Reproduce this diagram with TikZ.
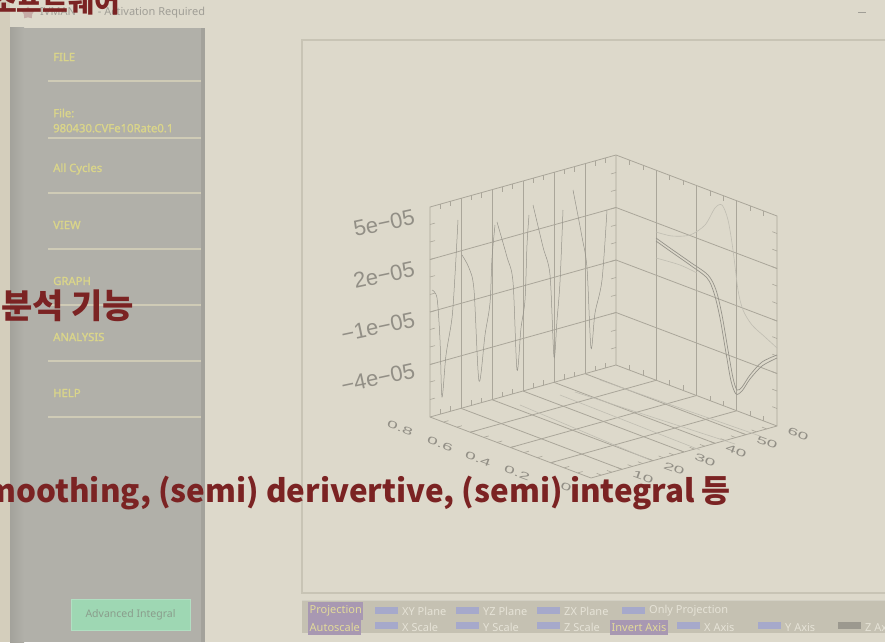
\documentclass[tikz,border=0pt]{standalone}
\usepackage{fontspec}
\setmainfont{Noto Sans}
\newfontfamily\menufont[AutoFakeBold=1.6]{Noto Sans}
\newfontfamily\krfont{Noto Sans CJK KR}
\newfontfamily\plotfont{Liberation Sans}
\usetikzlibrary{calc,shapes.geometric}

\definecolor{bgbeige}{RGB}{221,217,203}
\definecolor{edgebeige}{RGB}{212,206,188}
\definecolor{sidegray}{RGB}{177,176,169}
\definecolor{sidedark}{RGB}{163,162,155}
\definecolor{menuyellow}{RGB}{218,213,138}
\definecolor{seplight}{RGB}{207,203,182}
\definecolor{frameline}{RGB}{200,196,181}
\definecolor{barfill}{RGB}{197,193,178}
\definecolor{hilite}{RGB}{168,152,178}
\definecolor{hitext}{RGB}{226,218,154}
\definecolor{bartext}{RGB}{230,227,215}
\definecolor{swatch}{RGB}{166,169,203}
\definecolor{swatchoff}{RGB}{156,153,143}
\definecolor{gridline}{RGB}{170,166,154}
\definecolor{labelgray}{RGB}{146,143,134}
\definecolor{tracegray}{RGB}{150,147,138}
\definecolor{faintgray}{RGB}{192,189,178}
\definecolor{btngreen}{RGB}{158,215,179}
\definecolor{btntext}{RGB}{138,157,140}
\definecolor{titlegray}{RGB}{160,158,150}
\definecolor{notered}{RGB}{123,35,35}

\tikzset{
  menu/.style={anchor=west, text=menuyellow, font=\menufont\bfseries\fontsize{11.3}{15}\selectfont, inner sep=0pt},
  menusep/.style={draw=seplight, line width=1.5pt},
  barlabel/.style={anchor=west, text=bartext, font=\fontsize{11}{12}\selectfont, inner sep=0pt},
  barhilite/.style={anchor=west, fill=hilite, text=hitext, font=\fontsize{11}{12}\selectfont, inner xsep=1.5pt, minimum height=15pt},
  barswatch/.style={fill=swatch, minimum width=23pt, minimum height=7pt, inner sep=0pt},
  grid3d/.style={draw=gridline, line width=0.8pt},
  tick3d/.style={draw=gridline, line width=0.6pt},
  zlabel/.style={text=labelgray, font=\plotfont\fontsize{22}{22}\selectfont, rotate=12, inner sep=0pt},
  flabel/.style={text=labelgray, font=\plotfont\fontsize{12}{12}\selectfont, rotate=-20, xscale=1.6, yscale=0.85, inner sep=0pt},
  trace/.style={draw=tracegray, line width=0.5pt},
  faint/.style={draw=faintgray, line width=0.6pt},
  note/.style={text=notered, font=\krfont\bfseries, inner sep=0pt},
}

\begin{document}
\begin{tikzpicture}[x=1pt,y=-1pt]
\useasboundingbox (0,0) rectangle (885,642);
\clip (0,0) rectangle (885,642);
\fill[bgbeige] (0,0) rectangle (885,642);
\fill[edgebeige] (0,0) rectangle (10,642);

% title bar
\node[star, star points=5, fill=titlegray!60!pink, minimum size=13pt, inner sep=0pt] (appIcon) at (28,13) {};
\node[anchor=west, text=titlegray, font=\fontsize{11}{12}\selectfont, inner sep=0pt] (winTitle) at (40,13) {IVMAN\hspace{22pt}- Activation Required};
\draw[titlegray, line width=0.8pt] (858,12) -- (866,12);

% side menu
\fill[sidegray] (10,28) rectangle (205,642);
\shade[left color=sidedark, right color=sidegray] (10,28) rectangle (24,642);
\fill[sidedark] (201,28) rectangle (205,642);
\foreach \y in {81,138,193,249,305,361,417}
  \draw[menusep] (48,\y) -- (201,\y);
\node[menu] (mFile) at (53,57) {FILE};
\node[menu, align=left] (mFileName) at (53,120.5) {File:\\980430.CVFe10Rate0.1};
\node[menu] (mCycles) at (53,169) {All Cycles};
\node[menu] (mView) at (53,225) {VIEW};
\node[menu] (mGraph) at (53,281) {GRAPH};
\node[menu] (mAnalysis) at (53,337) {ANALYSIS};
\node[menu] (mHelp) at (53,393) {HELP};
\node[fill=btngreen, draw=btngreen!80!white, minimum width=119pt, minimum height=31pt, inner sep=0pt, text=btntext, font=\fontsize{10.5}{12}\selectfont] (advBtn) at (130.5,615) {Advanced Integral};

% plot frame and tool bar
\draw[frameline, line width=1.5pt] (302,40) rectangle (895,593);
\fill[barfill] (302,600) rectangle (885,633);
\draw[frameline!80!white, line width=1pt] (302,600) -- (885,600);
\node[barhilite] (hlProj) at (308,611) {Projection};
\node[barhilite] (hlAuto) at (308,627) {Autoscale};
\node[barhilite] (hlInv) at (610,627) {Invert Axis};
\foreach \x/\lbl [count=\n] in {375/XY Plane, 456/YZ Plane, 537/ZX Plane, 622/Only Projection} {
  \node[barswatch] (swA\n) at (\x+11.5,610.5) {};
  \node[barlabel] (lbA\n) at (\x+27,611) {\lbl};
}
\foreach \x/\lbl [count=\n] in {375/X Scale, 456/Y Scale, 537/Z Scale, 677/X Axis, 758/Y Axis} {
  \node[barswatch] (swB\n) at (\x+11.5,625.5) {};
  \node[barlabel] (lbB\n) at (\x+27,627) {\lbl};
}
\node[barswatch, fill=swatchoff] (swZ) at (849.5,625.5) {};
\node[barlabel] (lbZ) at (865,627) {Z Axis};

% 3d box
\coordinate (leftTop) at (430,207);
\coordinate (backTop) at (616,155);
\coordinate (backBot) at (616,365);
\coordinate (leftBot) at (430,417);
\coordinate (rightTop) at (777,216);
\coordinate (rightBot) at (777,426);
\coordinate (frontBot) at (591,478);

\draw[grid3d] (leftTop) -- (backTop) -- (rightTop) -- (rightBot) -- (frontBot) -- (leftBot) -- cycle;
\draw[grid3d] (backTop) -- (backBot) -- (leftBot);
\draw[grid3d] (backBot) -- (rightBot);
\foreach \i in {1,...,5} {
  \draw[grid3d] ($(leftTop)!\i/6!(backTop)$) -- ($(leftBot)!\i/6!(backBot)$);
  \draw[grid3d] ($(leftBot)!\i/6!(backBot)$) -- ($(frontBot)!\i/6!(rightBot)$);
}
\foreach \j in {1,2,3} {
  \draw[grid3d] ($(leftTop)!\j/4!(leftBot)$) -- ($(backTop)!\j/4!(backBot)$);
  \draw[grid3d] ($(backTop)!\j/4!(backBot)$) -- ($(rightTop)!\j/4!(rightBot)$);
  \draw[grid3d] ($(backTop)!\j/4!(rightTop)$) -- ($(backBot)!\j/4!(rightBot)$);
  \draw[grid3d] ($(leftBot)!\j/4!(frontBot)$) -- ($(backBot)!\j/4!(rightBot)$);
}
\foreach \k in {1,...,17} {
  \draw[tick3d] ($(leftTop)!\k/18!(backTop)$) -- ++(0,5);
  \draw[tick3d] ($(leftBot)!\k/18!(backBot)$) -- ++(0,-5);
  \draw[tick3d] ($(frontBot)!\k/18!(rightBot)$) -- ++(-4.7,-1.8);
}
\foreach \k in {1,...,11} {
  \draw[tick3d] ($(leftTop)!\k/12!(leftBot)$) -- ++(5,-1.4);
  \draw[tick3d] ($(backTop)!\k/12!(backBot)$) -- ++(-5,1.4);
  \draw[tick3d] ($(backTop)!\k/12!(rightTop)$) -- ++(0,5);
  \draw[tick3d] ($(backBot)!\k/12!(rightBot)$) -- ++(0,-5);
  \draw[tick3d] ($(rightTop)!\k/12!(rightBot)$) -- ++(-4.7,-1.8);
  \draw[tick3d] ($(leftBot)!\k/12!(frontBot)$) -- ++(5,-1.4);
}

% axis labels
\node[zlabel] (z1) at (384,223) {5e−05};
\node[zlabel] (z2) at (384,275) {2e−05};
\node[zlabel] (z3) at (378,327) {−1e−05};
\node[zlabel] (z4) at (378,378) {−4e−05};
\node[flabel] (x1) at (400,428) {0.8};
\node[flabel] (x2) at (440,444) {0.6};
\node[flabel] (x3) at (478,459) {0.4};
\node[flabel] (x4) at (517,473) {0.2};
\node[flabel] (x5) at (566,487) {0};
\foreach \v [count=\n] in {10,20,30,40,50,60}
  \node[flabel] (y\n) at (612+31*\n,486-8.7*\n) {\v};

% curves
\draw[faint] (560,395) -- (700,450);
\draw[faint] (575,392) -- (735,444);
\draw[faint] (600,380) -- (760,436);
\draw[faint] (520,405) -- (650,460);
\draw[trace] plot[smooth, tension=0.5] coordinates {(432,290) (437,298) (440,340) (442,397) (446,355) (452,318) (455,275) (458,220)};
\draw[trace] plot[smooth, tension=0.5] coordinates {(462,255) (469,268) (474,290) (479,381) (485,335) (490,303) (492,258) (495,225)};
\draw[trace] plot[smooth, tension=0.5] coordinates {(497,222) (507,257) (513,282) (517,370) (521,328) (525,300) (527,245) (529,215)};
\draw[trace] plot[smooth, tension=0.5] coordinates {(533,205) (543,247) (550,275) (554,357) (557,320) (560,282) (563,210)};
\draw[trace] plot[smooth, tension=0.5] coordinates {(573,190) (582,237) (587,268) (591,348) (595,313) (602,280) (607,210)};
\draw[faint] plot[smooth] coordinates {(656,232) (672,236) (690,235) (705,225) (715,208) (722,205) (728,220) (733,250) (738,290) (743,310) (752,325) (765,337) (777,348)};
\draw[faint] plot[smooth] coordinates {(656,258) (680,265) (697,273)};
\draw[trace, line width=0.7pt] plot[smooth] coordinates {(656,238) (670,248) (690,262) (708,275) (716,290) (722,315) (728,350) (733,378) (737,390) (742,387) (750,375) (762,362) (777,355)};
\draw[trace, line width=0.7pt] plot[smooth] coordinates {(656,241) (670,251) (690,265) (707,278) (714,293) (720,318) (726,353) (731,381) (736,394) (742,391) (750,379) (762,366) (777,358)};

% overlay notes
\node[note, font=\krfont\bfseries\fontsize{28}{28}\selectfont, anchor=base west] (noteSoft) at (-9,13) {소프트웨어};
\node[note, font=\krfont\bfseries\fontsize{34}{34}\selectfont, anchor=base west] (noteAna) at (1,318) {분석 기능};
\node[note, font=\krfont\bfseries\fontsize{31.4}{31.4}\selectfont, anchor=base east] (noteFunc) at (731,502) {Smoothing, (semi) derivertive, (semi) integral 등};
\end{tikzpicture}
\end{document}
